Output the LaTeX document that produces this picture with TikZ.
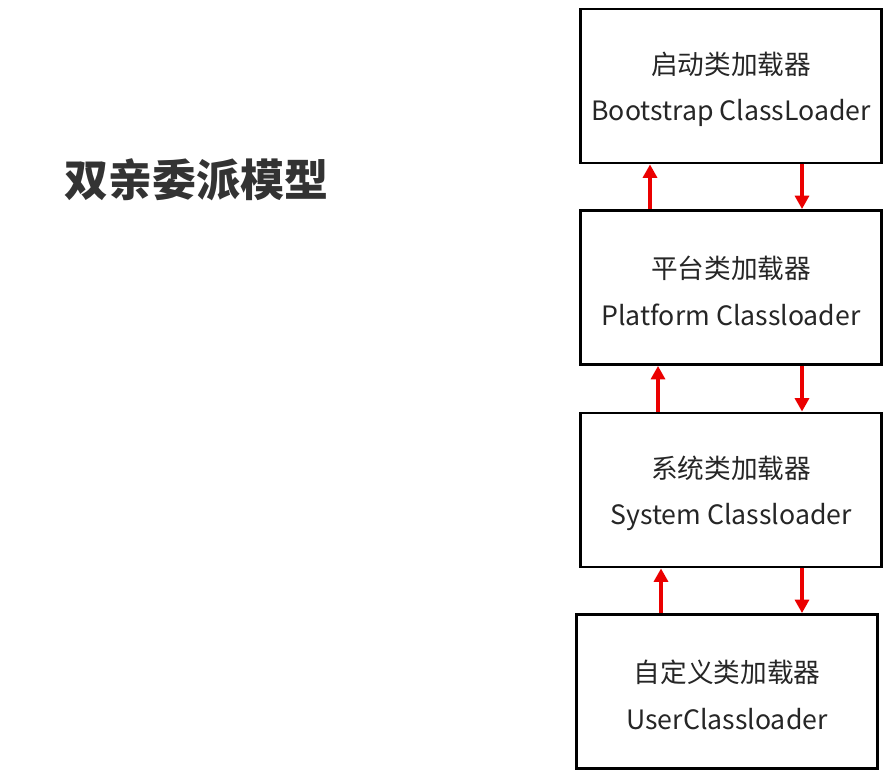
\documentclass[tikz,border=0pt]{standalone}
\usepackage{fontspec}
\setmainfont{Noto Sans CJK SC}
\usetikzlibrary{arrows.meta}
\tikzset{>=latex}
\colorlet{arrcol}{red!92!black}
\colorlet{txtcol}{black!85}
\newcommand{\topstrut}{\rule{0pt}{22pt}}
\tikzset{
  loader/.style={draw, line width=2.2pt, inner sep=0pt, align=center,
    minimum width=226pt, minimum height=115.5pt, text=txtcol,
    font=\fontsize{20}{35}\selectfont},
  uparr/.style={arrcol, line width=2.3pt, -{Triangle[width=10.5pt,length=10pt]}},
  downarr/.style={arrcol, line width=2.3pt, -{Triangle[width=10.5pt,length=10pt]}}
}

\begin{document}
\begin{tikzpicture}[x=0.75pt, y=-0.75pt]
  \useasboundingbox (0,0) rectangle (888,784);
  % title
  \node[text=black!80, font=\fontsize{33}{40}\selectfont\bfseries] (title) at (196,180) {双亲委派模型};
  % loaders
  \node[loader] (boot) at (731,86) {\topstrut{}启动类加载器\\Bootstrap ClassLoader};
  \node[loader] (plat) at (731,287.5) {\topstrut{}平台类加载器\\Platform Classloader};
  \node[loader] (sys) at (731,490) {\topstrut{}系统类加载器\\System Classloader};
  \node[loader] (user) at (727,691.5) {\topstrut{}自定义类加载器\\UserClassloader};
  % plat to boot
  \draw[uparr] (650,0 |- plat.north) -- (650,0 |- boot.south);
  \draw[downarr] (802,0 |- boot.south) -- (802,0 |- plat.north);
  % sys to plat
  \draw[uparr] (658,0 |- sys.north) -- (658,0 |- plat.south);
  \draw[downarr] (802,0 |- plat.south) -- (802,0 |- sys.north);
  % user to sys
  \draw[uparr] (661,0 |- user.north) -- (661,0 |- sys.south);
  \draw[downarr] (802,0 |- sys.south) -- (802,0 |- user.north);
\end{tikzpicture}
\end{document}
